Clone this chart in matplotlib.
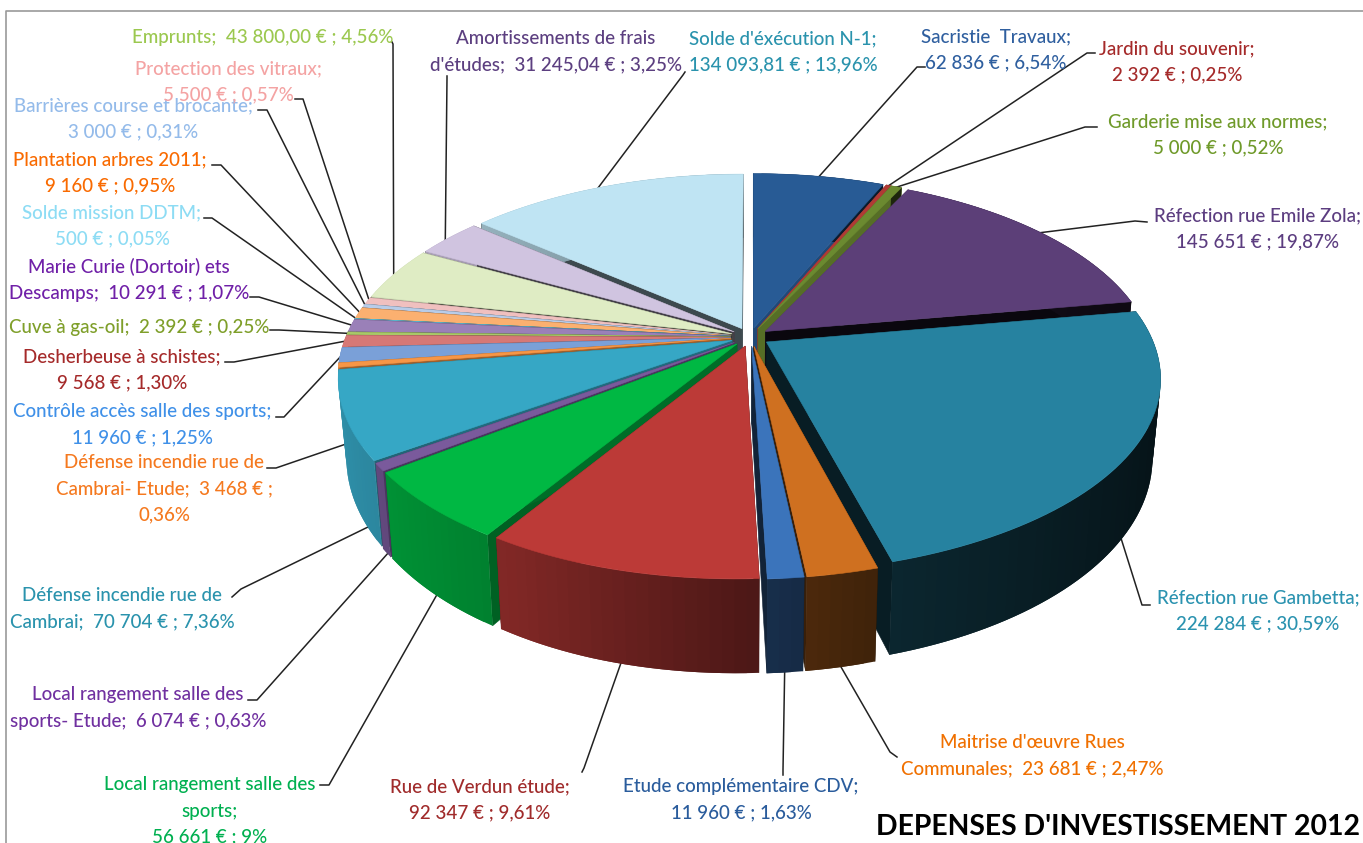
import matplotlib

matplotlib.use("Agg")
import matplotlib.pyplot as plt  # noqa: E402
import numpy as np  # noqa: E402
from matplotlib.colors import to_rgb  # noqa: E402
from matplotlib.patches import Polygon  # noqa: E402

# clockwise from 12 o'clock
amounts = [62836, 2392, 5000, 145651, 224284, 23681, 11960, 92347, 56661, 6074, 70704, 3468,
           11960, 9568, 2392, 10291, 500, 9160, 3000, 5500, 43800, 31245.04, 134093.81]
labels = [
    "Sacristie  Travaux;\n62 836 € ; 6,54%",
    "Jardin du souvenir;\n2 392 € ; 0,25%",
    "Garderie mise aux normes;\n5 000 € ; 0,52%",
    "Réfection rue Emile Zola;\n145 651 € ; 19,87%",
    "Réfection rue Gambetta;\n224 284 € ; 30,59%",
    "Maitrise d'œuvre Rues\nCommunales;  23 681 € ; 2,47%",
    "Etude complémentaire CDV;\n11 960 € ; 1,63%",
    "Rue de Verdun étude;\n92 347 € ; 9,61%",
    "Local rangement salle des\nsports;\n56 661 € ; 9%",
    "Local rangement salle des\nsports- Etude;  6 074 € ; 0,63%",
    "Défense incendie rue de\nCambrai;  70 704 € ; 7,36%",
    "Défense incendie rue de\nCambrai- Etude;  3 468 € ;\n0,36%",
    "Contrôle accès salle des sports;\n11 960 € ; 1,25%",
    "Desherbeuse à schistes;\n9 568 € ; 1,30%",
    "Cuve à gas-oil;  2 392 € ; 0,25%",
    "Marie Curie (Dortoir) ets\nDescamps;  10 291 € ; 1,07%",
    "Solde mission DDTM;\n500 € ; 0,05%",
    "Plantation arbres 2011;\n9 160 € ; 0,95%",
    "Barrières course et brocante;\n3 000 € ; 0,31%",
    "Protection des vitraux;\n5 500 € ; 0,57%",
    "Emprunts;  43 800,00 € ; 4,56%",
    "Amortissements de frais\nd'études;  31 245,04 € ; 3,25%",
    "Solde d'éxécution N-1;\n134 093,81 € ; 13,96%",
]
title = "DEPENSES D'INVESTISSEMENT 2012"

top_colors = ["#285b95", "#b03a35", "#6b8a30", "#5c3f78", "#2682a0", "#cf7020", "#3b74bb", "#bc3a37",
              "#00b843", "#7a5a9c", "#36a7c5", "#f79646", "#7aa0d8", "#d67876", "#a8c868", "#9a80b8",
              "#5cc0d8", "#fbb070", "#b8cce8", "#f0c0bf", "#dfecc4", "#d0c4e0", "#bfe4f3"]
text_colors = ["#2f5f9f", "#a52a2a", "#6f9a2a", "#5c3d80", "#2b93b0", "#f07000", "#2a5c9c", "#a02b2b",
               "#00b050", "#7030a0", "#2a93ad", "#f5791f", "#3f90e8", "#a52a2a", "#7f9f2a", "#7020a8",
               "#8ddcf4", "#f96a00", "#94bbea", "#f4a3a3", "#9bc84f", "#5c3f80", "#2a93ad"]

# label centres, in pixels
label_xy = [(996, 50), (1177, 62), (1218, 135), (1257, 229), (1258, 611), (1032, 756), (741, 800), (480, 800),
            (210, 811), (138, 708), (122, 609), (164, 489), (142, 425), (122, 370), (139, 327), (129, 280),
            (112, 226), (110, 173), (133, 119), (228, 82), (263, 37), (556, 52), (783, 52)]
# label end of each leader, then where it meets the slice: fraction along the slice, height on the rim
leader_start = [[(925, 67), (917, 67)], [(1095, 53), (1087, 53)], [(1097, 127), (1085, 127)], [(1147, 222), (1135, 221)],
                [(1150, 605), (1142, 605)], [(897, 757), (890, 752)], [(783, 775), (783, 770)], [(582, 772), (584, 768)],
                [(320, 785), (329, 785)], [(248, 700), (257, 700)], [(232, 597), (241, 589)], [(267, 468), (276, 468)],
                [(276, 417), (284, 417)], [(225, 362), (234, 362)], [(270, 330), (279, 330)], [(250, 297), (259, 297)],
                [(204, 218), (212, 218)], [(212, 165), (221, 165)], [(258, 110), (267, 110)], [(295, 99), (303, 99)],
                [(392, 42), (393, 44)], [(447, 76), (447, 78)], [(685, 72), (683, 75)]]
leader_end = [(.5, 0), (.5, 0), (.5, 0), (.5, 0), (.5, 1), (.5, 1), (.5, 1), (.5, 1),
              (.5, 1), (.5, 1), (.2, 1), (.5, 1), (.5, 0), (.5, 0), (.5, 0), (.5, 0),
              (.5, 0), (.5, 0), (.5, 0), (.5, 0), (.45, 0), (.4, 0), (.47, 0)]

cx, cy = 750, 337
rx, ry = 385, 186
persp = 0.185
depth = 76
explode = 0.05


def project(u, v, z=0.0):
    # u, v on the unit disc (v towards the viewer), z from top face to bottom face
    w = 1 / (1 - persp * v)
    x = cx + rx * u * w * (1 - 0.02 * z) - 8 * np.clip(v, 0, 1) ** 3
    y = cy + ry * v * w + depth * z * w
    return np.column_stack([x, y])


def disc(theta, off, r=1.0):
    return off[0] + r * np.sin(theta), off[1] - r * np.cos(theta)


def shade(color, u):
    f = np.interp(u, [-1, -0.5, 0, 0.3, 1], [0.85, 0.68, 0.42, 0.3, 0.15])
    return tuple(c * f for c in to_rgb(color))


def wall_color(color, u, v):
    if v < 0 and u < 0:
        return tuple(c * 0.32 for c in to_rgb(color))
    if v < -0.5:
        return tuple(c * 0.8 for c in to_rgb(color))
    return tuple(c * 0.75 for c in shade(color, u))


def face(ax, pts, color, zorder, lw=0.4):
    ax.add_patch(Polygon(pts, closed=True, facecolor=color, edgecolor=color if lw else "none", lw=lw, zorder=zorder))


def main():
    plt.rcParams["font.family"] = ["Lato", "DejaVu Sans"]
    fig = plt.figure(figsize=(13.63, 8.43), dpi=100)
    ax = fig.add_axes([0, 0, 1, 1])
    ax.set_xlim(0, 1363)
    ax.set_ylim(843, 0)
    ax.axis("off")

    ax.plot([6, 6, 1363], [843, 10.5, 10.5], color="#9a9a9a", lw=1.2, zorder=1)

    values = np.array(amounts, dtype=float)
    edges = np.concatenate([[0], np.cumsum(values)]) / values.sum() * 2 * np.pi
    mids = (edges[:-1] + edges[1:]) / 2
    offs = [(explode * np.sin(m), -explode * np.cos(m)) for m in mids]

    # leaders sit under the pie so they stop at its outline
    for i, (start, (frac, z)) in enumerate(zip(leader_start, leader_end)):
        th = edges[i] + frac * (edges[i + 1] - edges[i])
        u, v = disc(th, offs[i], 0.995)
        end = project(np.array([u]), np.array([v]), z)[0]
        pts = np.array(list(start) + [tuple(end)])
        ax.plot(pts[:, 0], pts[:, 1], color="#222222", lw=1.1, zorder=2)

    order = np.argsort([-np.cos(m) for m in mids])
    zo = 3
    for i in order:
        a, b = edges[i], edges[i + 1]
        off = offs[i]
        color = top_colors[i]
        n = max(2, int(np.degrees(b - a) / 1.5) + 2)
        ths = np.linspace(a, b, n)
        us, vs = disc(ths, off)

        # cut walls
        for uu, vv in ((us[0], vs[0]), (us[-1], vs[-1])):
            au, av = np.array([off[0]]), np.array([off[1]])
            ru, rv = np.array([uu]), np.array([vv])
            pts = np.vstack([project(au, av, 0), project(ru, rv, 0), project(ru, rv, 1), project(au, av, 1)])
            face(ax, pts, wall_color(color, uu, vv), zo)
        zo += 1

        # outer rim, strip by strip for the gradient; each strip runs under the next to hide seams
        for k in range(n - 1):
            su, sv = us[k:k + 3], vs[k:k + 3]
            pts = np.vstack([project(su, sv, 0), project(su[::-1], sv[::-1], 1)])
            face(ax, pts, shade(color, us[k:k + 2].mean()), zo, lw=0)
        zo += 1

        au, av = np.array([off[0]]), np.array([off[1]])
        pts = np.vstack([project(au, av, 0), project(us, vs, 0)])
        face(ax, pts, color, zo)
        zo += 1

    for text, (x, y), col in zip(labels, label_xy, text_colors):
        ax.text(x, y, text, color=col, fontsize=13.5, fontweight="medium", ha="center", va="center",
                multialignment="center", linespacing=1.66, zorder=100)
    ax.text(1360, 827, title, color="black", fontsize=20.4, fontweight="bold", ha="right", va="center", zorder=100)

    fig.savefig("out.png", dpi=100)
    plt.close(fig)


if __name__ == "__main__":
    main()
